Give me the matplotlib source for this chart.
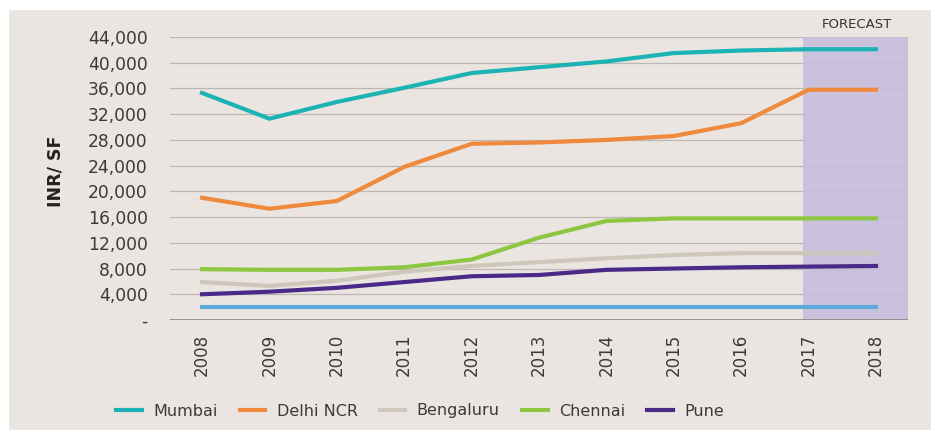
import matplotlib
matplotlib.use("Agg")
import matplotlib.pyplot as plt
from matplotlib.patches import Rectangle

years = [2008, 2009, 2010, 2011, 2012, 2013, 2014, 2015, 2016, 2017, 2018]
mumbai = [35300, 31300, 33900, 36100, 38400, 39300, 40200, 41500, 41900, 42100, 42100]
delhi = [19000, 17300, 18500, 23800, 27400, 27600, 28000, 28600, 30600, 35800, 35800]
bengaluru = [5900, 5300, 6100, 7500, 8400, 9000, 9600, 10100, 10400, 10400, 10400]
chennai = [7900, 7800, 7800, 8200, 9400, 12800, 15400, 15800, 15800, 15800, 15800]
pune = [4000, 4400, 5000, 5900, 6800, 7000, 7800, 8000, 8200, 8300, 8400]
other = [2000, 2000, 2000, 2000, 2000, 2000, 2000, 2000, 2000, 2000, 2000]
yticks = [0, 4000, 8000, 12000, 16000, 20000, 24000, 28000, 32000, 36000, 40000, 44000]
ytick_labels = ["-", "4,000", "8,000", "12,000", "16,000", "20,000", "24,000",
                "28,000", "32,000", "36,000", "40,000", "44,000"]

bg = "#ebe5e1"
fig = plt.figure(figsize=(9.31, 4.30), dpi=100, facecolor=bg)
fig.patches.append(Rectangle((0, 1 - 10/430), 1, 10/430, transform=fig.transFigure,
                             facecolor="white", edgecolor="none", zorder=-5))
fig.patches.append(Rectangle((0, 0), 9/931, 1, transform=fig.transFigure,
                             facecolor="white", edgecolor="none", zorder=-5))
ax = fig.add_axes([170/931, 1 - 320/430, (908 - 170)/931, (320 - 37)/430])
ax.set_facecolor(bg)

ax.axvspan(2016.92, 2018.475, color="#c7bddc", alpha=0.9, zorder=1, lw=0)

for y in yticks[1:]:
    ax.axhline(y, color="#bdb6b2", lw=0.9, zorder=0.5)
ax.axhline(0, color="#8a8480", lw=1.2, zorder=2)

lw = 3.0
ax.plot(years, other, color="#5ea9d9", lw=lw, zorder=3)
ax.plot(years, pune, color="#4a2a86", lw=lw, label="Pune", zorder=4)
ax.plot(years, bengaluru, color="#cfc6bc", lw=lw, label="Bengaluru", zorder=3)
ax.plot(years, chennai, color="#8dc640", lw=lw, label="Chennai", zorder=4)
ax.plot(years, delhi, color="#ef8a3d", lw=lw, label="Delhi NCR", zorder=4)
ax.plot(years, mumbai, color="#1cb3b4", lw=lw, label="Mumbai", zorder=4)

ax.set_xlim(2007.525, 2018.475)
ax.set_ylim(0, 44000)
ax.set_xticks(years)
ax.set_xticklabels([str(y) for y in years], rotation=90, fontsize=12, color="#3a3a3a")
ax.set_yticks(yticks)
ax.set_yticklabels(ytick_labels, fontsize=12.3, color="#3a3a3a")
ax.tick_params(axis="both", length=0)
ax.tick_params(axis="y", pad=16)
ax.tick_params(axis="x", pad=10)
for s in ax.spines.values():
    s.set_visible(False)

fig.text(55/931, 1 - 171/430, "INR/ SF", rotation=90, ha="center", va="center",
         fontsize=12.5, fontweight="bold", color="#222222")
fig.text(857/931, 1 - 24/430, "FORECAST", ha="center", va="center",
         fontsize=9.5, fontweight="medium", color="#333333")

handles, labels = ax.get_legend_handles_labels()
order = ["Mumbai", "Delhi NCR", "Bengaluru", "Chennai", "Pune"]
hmap = dict(zip(labels, handles))
leg = fig.legend([hmap[o] for o in order], order, loc="center",
                 bbox_to_anchor=(420/931, 1 - 411/430), ncol=5, frameon=False,
                 fontsize=11.5, handlelength=1.6, columnspacing=1.4, handletextpad=0.7)
for t in leg.get_texts():
    t.set_color("#3a3a3a")

fig.savefig("out.png", dpi=100, facecolor=fig.get_facecolor())
